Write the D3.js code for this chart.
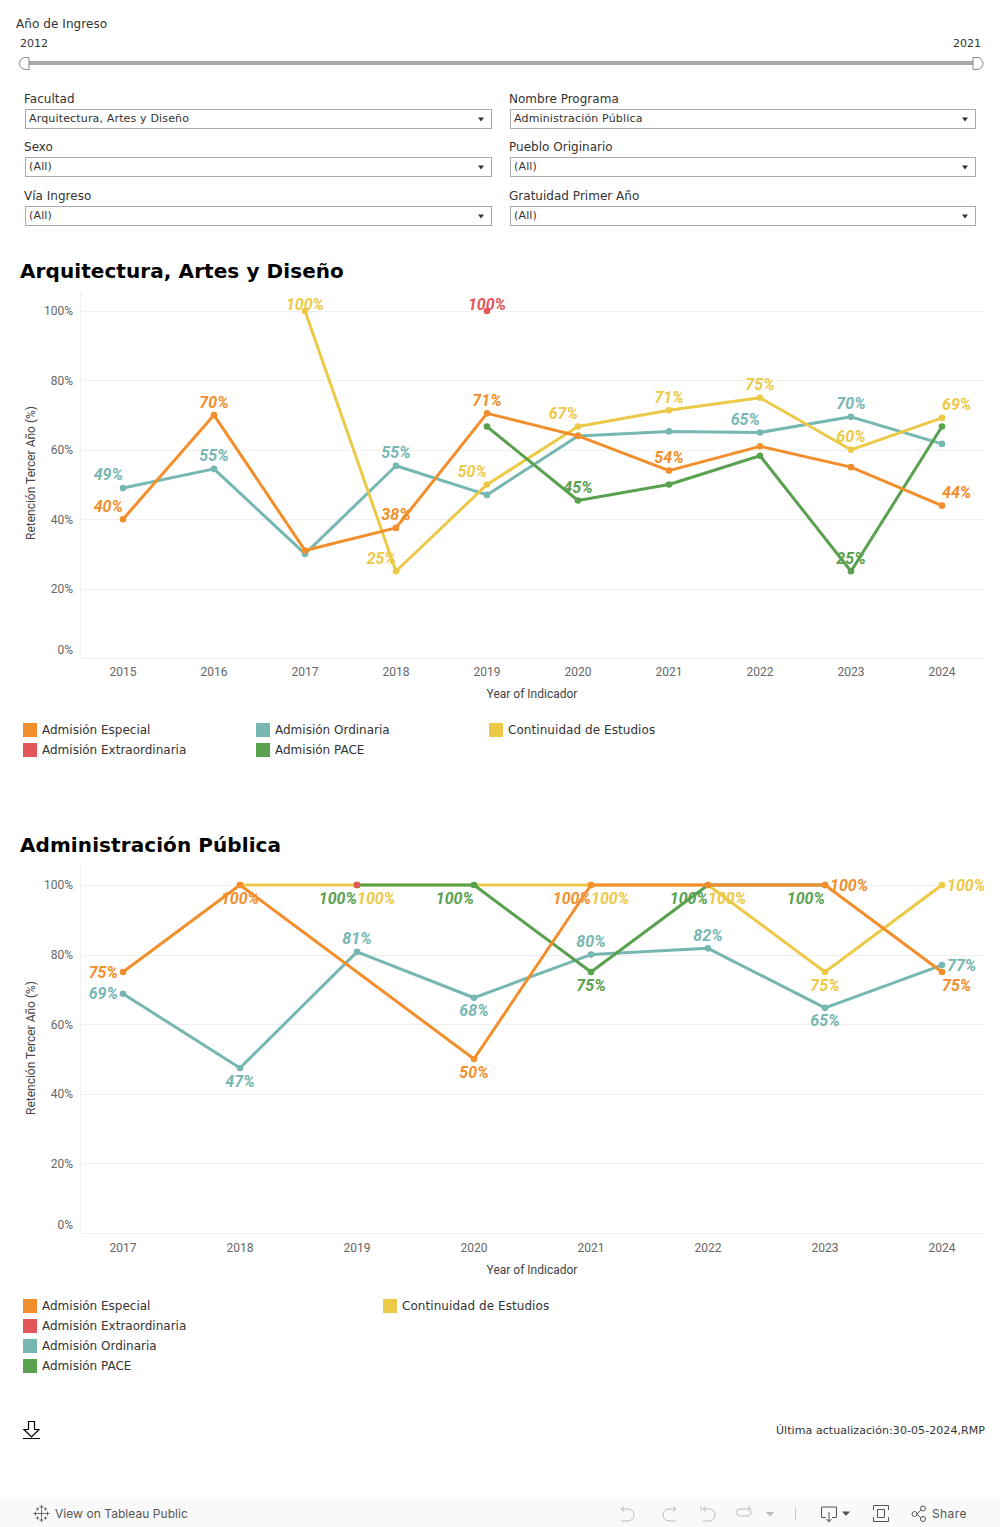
<!DOCTYPE html>
<html>
<head>
<meta charset="utf-8">
<script src="https://cdn.jsdelivr.net/npm/d3@7/dist/d3.min.js"></script>
<style>
html,body{margin:0;padding:0;background:#fff;overflow:hidden}
svg{display:block}
</style>
</head>
<body>
<div id="root"></div>
<script>
// ---------- Data: chart 1 ----------
const years1 = [2015,2016,2017,2018,2019,2020,2021,2022,2023,2024];
const especial1    = [40,70,31,37.5,70.5,64,54,61,55,43.9];
const ordinaria1   = [49,54.5,30,55.4,47,64,65.3,65,69.5,61.7];
const continuidad1 = [null,null,100,25,50,66.7,71.4,75,60,69.2];
const pace1        = [null,null,null,null,66.7,45.4,50,58.3,25,66.7];
const extra1       = [null,null,null,null,100,null,null,null,null,null];
const especialLabels1    = {2015:"nw",2016:"n",2018:"n",2019:"n",2021:"n",2024:"ne"};
const ordinariaLabels1   = {2015:"nw",2016:"n",2018:"n",2022:"nw",2023:"n"};
const continuidadLabels1 = {2017:"top",2018:"nw",2019:"nw",2020:"nw",2021:"n",2022:"n",2023:"n",2024:"ne"};
const paceLabels1        = {2020:"n",2023:"n"};
const extraLabels1       = {2019:"top"};

// ---------- Data: chart 2 ----------
const years2 = [2017,2018,2019,2020,2021,2022,2023,2024];
const especial2    = [75,100,null,50,100,100,100,75];
const ordinaria2   = [68.75,47.4,80.8,67.6,80,81.8,64.7,77];
const continuidad2 = [null,100,100,100,100,100,75,100];
const pace2        = [null,null,100,100,75,100,100,null];
const extra2       = [null,null,100,null,null,null,null,null];
const especialLabels2    = {2017:"w",2018:"s",2020:"s",2021:"sw",2023:"e",2024:"se"};
const ordinariaLabels2   = {2017:"w",2018:"s",2019:"n",2020:"s",2021:"n",2022:"n",2023:"s",2024:"e"};
const continuidadLabels2 = {2019:"se",2021:"se",2022:"se",2023:"s",2024:"e"};
const paceLabels2        = {2019:"sw",2020:"sw",2021:"s",2022:"sw",2023:"sw"};
const extraLabels2       = {};

const yTicks = [0,20,40,60,80,100];
const seriesNames = {
  especial:"Admisión Especial", extra:"Admisión Extraordinaria",
  ordinaria:"Admisión Ordinaria", pace:"Admisión PACE", continuidad:"Continuidad de Estudios"
};
const colors = {especial:"#F28E2B", extra:"#E15759", ordinaria:"#76B7B2", pace:"#59A14F", continuidad:"#EDC948"};
const drawOrder = ["ordinaria","continuidad","pace","extra","especial"];

const filters = [
  ["Facultad","Arquitectura, Artes y Diseño"],["Nombre Programa","Administración Pública"],
  ["Sexo","(All)"],["Pueblo Originario","(All)"],
  ["Vía Ingreso","(All)"],["Gratuidad Primer Año","(All)"]
];

// ---------- Drawing ----------
const W = 1000, H = 1527;
const SANS = "'DejaVu Sans',sans-serif", ROB = "Roboto,sans-serif";
const svg = d3.select("#root").append("svg").attr("width",W).attr("height",H).attr("viewBox",`0 0 ${W} ${H}`);
svg.append("rect").attr("width",W).attr("height",H).attr("fill","#fff");

function txt(g,x,y,s,size,fill,opts={}){
  return g.append("text").attr("x",x).attr("y",y).attr("dominant-baseline","central")
    .attr("font-family",opts.font||SANS).attr("font-size",size).attr("fill",fill)
    .attr("letter-spacing",opts.ls||0)
    .attr("font-weight",opts.weight||"normal").attr("text-anchor",opts.anchor||"start").text(s);
}

// Slider
const ctl = svg.append("g");
txt(ctl,16,23.5,"Año de Ingreso",12,"#333",{ls:0.07});
txt(ctl,20,43.5,"2012",11,"#333");
txt(ctl,981,43.5,"2021",11,"#333",{anchor:"end"});
ctl.append("rect").attr("x",28).attr("y",61).attr("width",946).attr("height",4).attr("fill","#aaa");
ctl.append("path").attr("d","M29 57.5 H25.5 A6 6 0 0 0 25.5 69.5 H29 Z").attr("fill","#fff").attr("stroke","#888");
ctl.append("path").attr("d","M973 57.5 H977 A6 6 0 0 1 977 69.5 H973 Z").attr("fill","#fff").attr("stroke","#888");

// Filters
const rowY = [[98.5,109.5],[146.5,157.5],[195.5,206.5]];
filters.forEach((f,i)=>{
  const col=i%2, r=Math.floor(i/2);
  const x = col? 510.5:25.5, w = col? 465:466, [ly,by]=rowY[r];
  txt(ctl,col?509:24,ly,f[0],12,"#333",{ls:0.02});
  ctl.append("rect").attr("x",x).attr("y",by).attr("width",w).attr("height",19).attr("fill","#fff").attr("stroke","#aaa");
  txt(ctl,x+3.5,by+9,f[1],11,"#333",{ls:0.16});
  const ax = x+w-10.5, ay = by+8;
  ctl.append("path").attr("d",`M${ax-3} ${ay} h6 l-3 4 z`).attr("fill","#333");
});

function chart(cfg){
  const g = svg.append("g");
  txt(g,20,cfg.titleY,cfg.title,20,"#000",{weight:"bold",ls:0.08});
  const x = d3.scalePoint().domain(cfg.years).range([123,942]);
  const y = d3.scaleLinear().domain([0,100]).range([cfg.y0,cfg.y100]);

  // gridlines
  const grid = g.append("g");
  grid.selectAll("line").data(yTicks).join("line")
    .attr("x1",80).attr("x2",984).attr("y1",d=>Math.round(y(d))+.5).attr("y2",d=>Math.round(y(d))+.5)
    .attr("stroke","#f0f0f0");
  grid.append("line").attr("x1",80.5).attr("x2",80.5).attr("y1",cfg.yTop).attr("y2",cfg.y0).attr("stroke","#f0f0f0");

  // axes
  const ax = g.append("g").attr("transform","translate(73,0)")
    .call(d3.axisLeft(y).tickValues(yTicks).tickSize(0).tickPadding(0).tickFormat(d=>d+"%"));
  ax.select(".domain").remove();
  ax.selectAll("text").attr("font-family",ROB).attr("font-size",12).attr("fill","#666")
    .attr("dy",d=>d===0?"-0.4em":"0.32em");
  const bx = g.append("g").attr("transform",`translate(-0.5,${cfg.y0+cfg.xShift})`)
    .call(d3.axisBottom(x).tickSize(0).tickPadding(0));
  bx.select(".domain").remove();
  bx.selectAll("text").attr("font-family",ROB).attr("font-size",12).attr("fill","#666").attr("y",14).attr("dy","0.32em");
  txt(g,532,cfg.y0+36+cfg.xShift,"Year of Indicador",12,"#444",{font:ROB,anchor:"middle"});
  g.append("text").attr("transform",`translate(31,${cfg.yTitle}) rotate(-90)`)
    .attr("text-anchor","middle").attr("dominant-baseline","central")
    .attr("font-family",ROB).attr("font-size",12).attr("fill","#444").text("Retención Tercer Año (%)");

  // series
  const line = d3.line().x(d=>x(d.year)).y(d=>y(d.value)).curve(d3.curveLinear);
  const pts = k => cfg.years.map((yr,i)=>({year:yr,value:cfg.values[k][i],key:k})).filter(d=>d.value!==null);
  drawOrder.forEach(k=>{
    const data = pts(k), s = g.append("g");
    if(data.length>1) s.append("path").attr("d",line(data)).attr("fill","none")
      .attr("stroke",colors[k]).attr("stroke-width",3).attr("stroke-linejoin","round");
    s.selectAll("circle").data(data).join("circle")
      .attr("cx",d=>x(d.year)).attr("cy",d=>y(d.value)).attr("r",3.3).attr("fill",colors[k]);
  });

  // labels
  const off = {top:[0,-7,"middle"],n:[0,-13,"middle"],s:[0,13,"middle"],nw:[0,-13,"end"],ne:[0,-13,"start"],
               sw:[0,13,"end"],se:[0,13,"start"],w:[-5,0,"end"],e:[5,0,"start"]};
  drawOrder.forEach(k=>{
    const data = pts(k).filter(d=>cfg.labels[k][d.year]);
    g.append("g").selectAll("text").data(data).join("text")
      .attr("x",d=>x(d.year)+off[cfg.labels[k][d.year]][0])
      .attr("y",d=>y(d.value)+off[cfg.labels[k][d.year]][1])
      .attr("text-anchor",d=>off[cfg.labels[k][d.year]][2])
      .attr("dominant-baseline","central")
      .attr("font-family",ROB).attr("font-size",16).attr("font-weight",700).attr("font-style","italic")
      .attr("fill",colors[k]).text(d=>Math.round(d.value)+"%");
  });

  // legend
  cfg.legend.forEach(l=>{
    g.append("rect").attr("x",l[1]).attr("y",l[2]-7).attr("width",14).attr("height",14).attr("fill",colors[l[0]]);
    txt(g,l[1]+19,l[2],seriesNames[l[0]],12,"#333",{ls:l[0]==="continuidad"?0.06:0});
  });
}

chart({
  title:"Arquitectura, Artes y Diseño", titleY:271, years:years1, y0:658, y100:311, yTop:292, yTitle:473, xShift:0,
  values:{especial:especial1,ordinaria:ordinaria1,continuidad:continuidad1,pace:pace1,extra:extra1},
  labels:{especial:especialLabels1,ordinaria:ordinariaLabels1,continuidad:continuidadLabels1,pace:paceLabels1,extra:extraLabels1},
  legend:[["especial",23,730],["extra",23,750],["ordinaria",256,730],["pace",256,750],["continuidad",489,730]]
});
chart({
  title:"Administración Pública", titleY:845, years:years2, y0:1233, y100:885, yTop:866, yTitle:1048, xShift:1,
  values:{especial:especial2,ordinaria:ordinaria2,continuidad:continuidad2,pace:pace2,extra:extra2},
  labels:{especial:especialLabels2,ordinaria:ordinariaLabels2,continuidad:continuidadLabels2,pace:paceLabels2,extra:extraLabels2},
  legend:[["especial",23,1306],["extra",23,1326],["ordinaria",23,1346],["pace",23,1366],["continuidad",383,1306]]
});

// Download icon + update note
const foot = svg.append("g");
foot.append("path").attr("d","M28.5 1421.5 h6 v8 h4.5 l-7.5 7.5 l-7.5 -7.5 h4.5 z").attr("fill","#fff").attr("stroke","#000").attr("stroke-width",1.2);
foot.append("line").attr("x1",23).attr("x2",40).attr("y1",1438.5).attr("y2",1438.5).attr("stroke","#000");
txt(foot,985,1430.5,"Última actualización:30-05-2024,RMP",11,"#333",{anchor:"end",ls:0.07});

// Toolbar
const bar = svg.append("g");
bar.append("rect").attr("y",1499).attr("width",W).attr("height",28).attr("fill","#f9f9f9");
const ic = (d,c="#bbb")=>bar.append("path").attr("d",d).attr("fill","none").attr("stroke",c).attr("stroke-width",1);
// logo
[[41.5,1513.5,4],[35.5,1513.5,2],[47.5,1513.5,2],[41.5,1507,2],[41.5,1520,2],[37.5,1509,1.5],[45.5,1509,1.5],[37.5,1518,1.5],[45.5,1518,1.5]].forEach(p=>{
  ic(`M${p[0]-p[2]} ${p[1]} h${2*p[2]} M${p[0]} ${p[1]-p[2]} v${2*p[2]}`,"#666");
});
txt(bar,55,1513.5,"View on Tableau Public",12,"#555",{font:"Inter,sans-serif",ls:0.05});
ic("M621 1509 h7 a6 6 0 0 1 0 12 h-7 M621 1509 l3 -2.5 M621 1509 l3 2.5");
ic("M676 1509 h-7 a6 6 0 0 0 0 12 h7 M676 1509 l-3 -2.5 M676 1509 l-3 2.5");
ic("M701 1506 v5 M703 1509 h6 a6 6 0 0 1 0 12 h-6 M703 1509 l3 -2.5 M703 1509 l3 2.5");
ic("M751 1509 h-11 a3.5 3.5 0 0 0 0 7 h8 a3.5 3.5 0 0 0 3 -5 M751 1509 l-3 -2.5 M751 1509 l-3 2.5");
bar.append("path").attr("d","M766 1512 h8 l-4 4.5 z").attr("fill","#bbb");
ic("M795.5 1507 v13","#ccc");
ic("M826 1517.5 h-4.5 v-10.5 h15 v10.5 h-4.5 M829 1512 v9 M826.5 1519 l2.5 3 l2.5 -3","#555");
bar.append("path").attr("d","M842 1511.5 h8 l-4 4.5 z").attr("fill","#555");
ic("M873.5 1510 v-4.5 h15 v4.5 M873.5 1517 v4.5 h15 v-4.5 M877.5 1509.5 h7 v8 h-7 z","#555");
ic("M917 1514 L921.5 1509.5 M917 1514 L921.5 1518.5","#555");
bar.selectAll("circle.s").data([[914.5,1514],[923,1508.5],[923,1519]]).join("circle")
  .attr("cx",d=>d[0]).attr("cy",d=>d[1]).attr("r",2.5).attr("fill","#f9f9f9").attr("stroke","#555");
txt(bar,932,1513.5,"Share",12,"#555",{font:"Inter,sans-serif",ls:0.4});
</script>
</body>
</html>
